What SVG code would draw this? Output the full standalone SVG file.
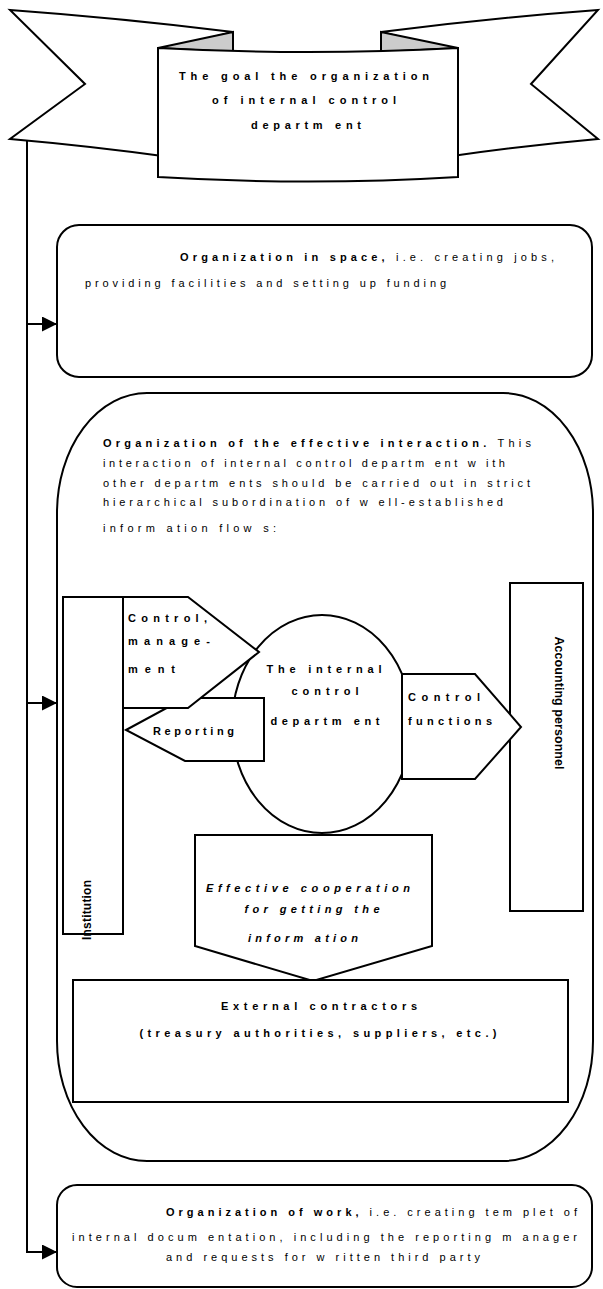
<svg xmlns="http://www.w3.org/2000/svg" width="603" height="1289" viewBox="0 0 603 1289">
<defs>
<style>
.s{fill:#fff;stroke:#000;stroke-width:2;stroke-linejoin:miter}
.fold{fill:#cccccc;stroke:#000;stroke-width:2}
.t{font-family:"Liberation Sans",Arial,sans-serif;font-size:11px;fill:#000}
.b{font-weight:bold}
.i{font-style:italic}
.c{text-anchor:middle}
.ln{fill:none;stroke:#000;stroke-width:2}
</style>
<marker id="ah" viewBox="0 0 10 10" refX="10" refY="5" markerWidth="15" markerHeight="15" markerUnits="userSpaceOnUse" orient="auto">
<path d="M0,0 L10,5 L0,10 z" fill="#000"/>
</marker>
</defs>

<g id="banner">
<path class="s" d="M233,32 Q120,18 10,10 L85,84 L10,139 Q90,146 170,157 L170,48 Z"/>
<path class="s" d="M381,32 Q490,18 598,10 L531,84 L598,139 Q520,146 445,157 L445,48 Z"/>
<path class="fold" d="M158,48 L233,32 L233,52 Z"/>
<path class="fold" d="M381,32 L381,52 L458,48 Z"/>
<path class="s" d="M158,48 Q308,56 458,48 L458,177 Q308,186 158,177 Z"/>
<text class="t b c" x="304" y="80" textLength="250" lengthAdjust="spacing">The goal the organization</text>
<text class="t b c" x="304" y="104" textLength="184" lengthAdjust="spacing">of internal control</text>
<text class="t b c" x="306" y="129" textLength="110" lengthAdjust="spacing">departm ent</text>
</g>

<g id="connectors">
<path class="ln" d="M27,140 V1252 H57" marker-end="url(#ah)"/>
<path class="ln" d="M27,324 H57" marker-end="url(#ah)"/>
<path class="ln" d="M27,703 H57" marker-end="url(#ah)"/>
</g>

<g id="space">
<rect class="s" x="57" y="225" width="535" height="152" rx="22" ry="22"/>
<text class="t" x="180" y="261" textLength="374" lengthAdjust="spacing"><tspan class="b">Organization in space,</tspan> i.e. creating jobs,</text>
<text class="t" x="85" y="287" textLength="361" lengthAdjust="spacing">providing facilities and setting up funding</text>
</g>

<g id="interaction">
<rect class="s" x="57" y="393" width="536" height="768" rx="90" ry="120"/>
<text class="t" x="103" y="447" textLength="428" lengthAdjust="spacing"><tspan class="b">Organization of the effective interaction.</tspan> This</text>
<text class="t" x="103" y="467" textLength="402" lengthAdjust="spacing">interaction of internal control departm ent w ith</text>
<text class="t" x="103" y="487" textLength="427" lengthAdjust="spacing">other departm ents should be carried out in strict</text>
<text class="t" x="103" y="506" textLength="400" lengthAdjust="spacing">hierarchical subordination of w ell-established</text>
<text class="t" x="103" y="532" textLength="173" lengthAdjust="spacing">inform ation flow s:</text>
</g>

<g id="institution">
<rect class="s" x="63" y="597" width="60" height="337"/>
<text class="t b c" style="font-size:12px" transform="translate(91,910) rotate(-90)" textLength="60" lengthAdjust="spacing">Institution</text>
</g>

<g id="accounting">
<rect class="s" x="510" y="583" width="73" height="328"/>
<text class="t b c" style="font-size:12.5px" transform="translate(555,703) rotate(90)" textLength="133" lengthAdjust="spacing">Accounting personnel</text>
</g>

<g id="department">
<ellipse class="s" cx="322" cy="724" rx="90" ry="109"/>
<text class="t b c" x="324" y="673" textLength="115" lengthAdjust="spacing">The internal</text>
<text class="t b c" x="325" y="695" textLength="67" lengthAdjust="spacing">control</text>
<text class="t b c" x="325" y="725" textLength="109" lengthAdjust="spacing">departm ent</text>
</g>

<g id="reporting">
<path class="s" d="M126,730 L185,698 L264,698 L264,761 L185,761 Z"/>
<text class="t b" x="153" y="735" textLength="81" lengthAdjust="spacing">Reporting</text>
</g>

<g id="control-management">
<path class="s" d="M123,597 L188,597 L259,652 L188,708 L123,708 Z"/>
<text class="t b" x="128" y="622" textLength="79" lengthAdjust="spacing">Control,</text>
<text class="t b" x="128" y="645" textLength="82" lengthAdjust="spacing">manage-</text>
<text class="t b" x="128" y="673" textLength="47" lengthAdjust="spacing">ment</text>
</g>

<g id="control-functions">
<path class="s" d="M402,674 L475,674 L521,727 L475,779 L402,779 Z"/>
<text class="t b" x="408" y="701" textLength="72" lengthAdjust="spacing">Control</text>
<text class="t b" x="408" y="725" textLength="84" lengthAdjust="spacing">functions</text>
</g>

<g id="cooperation">
<path class="s" d="M195,835 L432,835 L432,946 L313,981 L195,946 Z"/>
<text class="t b i c" x="308" y="892" textLength="204" lengthAdjust="spacing">Effective cooperation</text>
<text class="t b i c" x="312" y="913" textLength="135" lengthAdjust="spacing">for getting the</text>
<text class="t b i c" x="303" y="942" textLength="110" lengthAdjust="spacing">inform ation</text>
</g>

<g id="external">
<rect class="s" x="73" y="980" width="495" height="122"/>
<text class="t b c" x="319" y="1010" textLength="196" lengthAdjust="spacing">External contractors</text>
<text class="t b c" x="318" y="1037" textLength="357" lengthAdjust="spacing">(treasury authorities, suppliers, etc.)</text>
</g>

<g id="work">
<rect class="s" x="57" y="1185" width="535" height="102" rx="20" ry="20"/>
<text class="t" x="166" y="1216" textLength="411" lengthAdjust="spacing"><tspan class="b">Organization of work,</tspan> i.e. creating tem plet of</text>
<text class="t" x="72" y="1241" textLength="505" lengthAdjust="spacing">internal docum entation, including the reporting m anager</text>
<text class="t" x="166" y="1261" textLength="314" lengthAdjust="spacing">and requests for w ritten third party</text>
</g>
</svg>
